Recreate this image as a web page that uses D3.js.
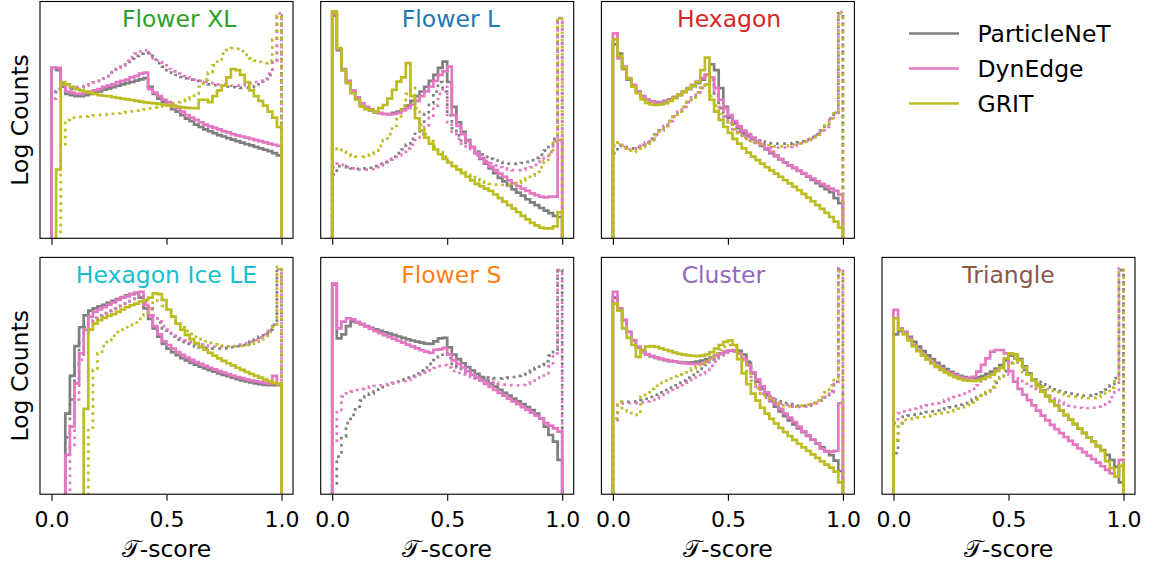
<!DOCTYPE html>
<html>
<head>
<meta charset="utf-8">
<script src="https://cdn.jsdelivr.net/npm/d3@7"></script>
<style>
  body { margin: 0; background: #fff; }
  svg { font-family: "DejaVu Sans", sans-serif; }
</style>
</head>
<body>
<div id="chart"></div>
<script>
let width = 1150;
let height = 564;

// models + legend
let models = ["ParticleNeT", "DynEdge", "GRIT"];
let modelColors = ["#7f7f7f", "#e377c2", "#bcbd22"];

// panel titles
let titles = ["Flower XL", "Flower L", "Hexagon", "Hexagon Ice LE", "Flower S", "Cluster", "Triangle"];
let titleColors = ["#2ca02c", "#1f77b4", "#d62728", "#17becf", "#ff7f0e", "#9467bd", "#8c564b"];

let tickValues = [0, 0.5, 1.0];

// 50 bins on [0,1], heights in log-count units (0 = bottom of axes, 100 = top)
// --- Flower XL
let xl_pn = [72,71,64,61,60.5,60,60,60.5,61,61.5, 62,62.8,63.3,63.8,64.5,65,65.5,66,66.6,67.1, 67.6,64,61,59,57.5,56,54.5,53.5,52,50.5, 49.5,48,47,46,45.2,44.4,43.6,43,42.3,41.7, 41,40.4,39.8,39.2,38.6,38,37.4,36.8,36,35];
let xl_pn_dot = [62,63,63,63.5,63,63.3,63.8,64.3,65,65.8, 66.5,67.5,68.5,70,71.5,73,74.5,76,77,78, 78.5,77,75.5,74,72.5,71,70,69,68.2,67.5, 67,66.5,66,65.5,65,64.7,64.4,64.2,64,63.8, 63.6,63.5,63.5,63.8,64.3,65,66.5,69,74.5,94];
let xl_de = [72,72,65,62,61.5,61,61,61.5,62,62.5, 63,64,64.5,65,66,66.5,67,68,68.5,69.5, 70,63,61.5,60,58.5,57.5,56,55,53.5,52, 51,50,49,48,47.3,46.6,46,45.3,44.7,44, 43.5,43,42.5,42,41.5,41,40.5,40,39.5,39];
let xl_de_dot = [59,62,63.5,64,63.5,63.8,64,64.5,65,65.8, 66.5,67.5,68.5,70.2,72,73.5,75,76.5,78,79, 79.5,78,76,74.5,73,71.5,70.5,69.5,68.5,68, 67.5,67,66.5,66,65.5,65.5,65,65,65,64.5, 64.5,64.5,65,65.5,66,66.5,67.5,69.5,75,95];
let xl_grit = [0,29,66,65,64,63,62.5,62,61.5,61, 60.5,60.2,60,59.6,59.3,59,58.7,58.4,58,57.7, 57.4,57.2,57,56.6,56.3,56,55.8,55.6,55.3,55.1, 55,55,58.5,58.5,57.5,60,62.5,64.5,68,71.5, 71,69,66,62.5,60,58,56,53.5,51,47];
let xl_grit_dot = [0,0,39,50,51,51,51.3,51.5,51.7,51.9, 52,52.2,52.4,52.6,52.8,53,53.3,53.6,53.9,54.2, 54.5,54.9,55.3,55.7,56.1,56.5,57,57.5,58,58.7, 59.5,61,64,67,70,73,75.5,78,79.5,80.3, 80,79,77.5,76,75,74.5,74,75,84,94];

// --- Flower L
let l_pn = [94,79.5,71,66,62,59,56.5,55,54,53.2, 52.8,52.5,52.5,53,53.5,54.5,56,58,60,62, 64,66.5,69,72,74.6,66,55.5,49,45,41.5, 38.5,36,33.5,31.5,29.5,27.5,25.5,24,22.3,20.7, 19.3,18,16.5,15.2,14,12.8,11.7,10.6,9.5,9];
let l_pn_dot = [27,30.5,30.5,30,29.5,29.3,29.3,29.5,29.8,30.5, 31.3,32.2,33.3,34.5,36,37.5,39.5,42,45,48.5, 52.5,57,62,66,62,52,46.5,43.5,41.3,39.5, 38,36.6,35.4,34.4,33.5,32.8,32.2,31.8,31.5,31.4, 31.5,31.8,32.3,33,34,35.3,37,39.5,42,92];
let l_de = [95,80,71.5,66.5,62.5,59.5,57,55.5,54.5,53.5, 53,52.5,52.3,52.5,53,54,55,56.5,58,60, 62,64,66.5,69,70.5,72.5,52,47.5,44,41, 38.5,36,34,32,30.3,28.8,27.3,26,24.5,23.3, 22,21,20,19,18.2,17.6,17.3,17.6,17.6,41.5];
let l_de_dot = [30,31.5,31,30,29.5,29,29,29,29.3,30, 30.8,31.6,32.6,33.7,35,36.5,38,39.5,41.5,44, 47,51,56,61,64,49,45,42,40,38, 36.5,35,33.8,32.7,31.7,30.8,30,29.4,29,28.8, 28.8,29,29.4,30,31,32.3,34,36.5,41,93];
let l_grit = [95.8,80.3,71,65.5,61.3,58.5,55.6,54.5,54.2,53.5, 55,56.3,59,62.7,66.2,68,74,60,50.7,45.5, 42.5,40,37.5,35.5,33.5,32,30.5,29,27.5,26, 24.5,23,22,21,20,18.5,17,15.5,14,12.5, 11,9.5,8,6.5,5.5,4.5,4.2,4.2,5,11];
let l_grit_dot = [37,38,36.5,35.2,34.8,34.5,34.5,35,35.5,37, 39,41.5,44,47.5,51.5,56,61,63.5,55,48, 44,41,38.7,36.5,34.5,32.5,31,29.5,28,26.8, 25.8,25,24.2,23.5,23,22.7,22.5,22.5,22.7,23, 23.5,24.3,25.3,26.5,28,30,32.5,35.5,41,93];

// --- Hexagon
let h_pn = [82,78,71.5,67,64.5,62,60,58.5,57.8,57.5, 57.5,58,58.7,59.6,60.6,61.8,63,64.3,65.6,67, 69,73.5,71,63.4,55.5,51,48.5,46.5,45,43.5, 42,40.5,39,37.5,36,34.7,33.3,32,30.8,29.7, 28.5,27.3,26,24.7,23.3,22,20.8,19.5,17,14.8];
let h_pn_dot = [36,39,38.5,38,38,38.5,39.5,40.5,42,43.8, 45.6,47.5,49.5,51.5,53.5,55.5,57.5,59.5,61.5,63.5, 65.5,67,60,55,51.5,49,47,45.3,44,43, 42,41.3,40.8,40.4,40.2,40,40,40,40,40.2, 40.5,41,41.8,42.8,44,45.5,47.5,50.5,53,95];
let h_de = [86.6,76,72.5,67.6,64.8,62,59.9,58.5,57.7,57.3, 57.3,57.7,58.5,59.6,60.6,62,63.4,64.8,66.2,67.6, 69,68,63.4,58.5,55,52,49.5,47.3,45.5,44, 42.5,41,39.5,38,36.5,35,33.5,32,30.8,29.7, 28.6,27.5,26.3,25.2,24,23,22,21,20,18.5];
let h_de_dot = [39,39.5,38.5,37.5,37.5,38,39,40.5,42,43.8, 45.6,47.5,49.5,51.5,53.5,55.5,57.5,59.5,61.5,63.5, 65,66.5,61,55.5,51.5,48.5,46,44,42.5,41.3, 40.3,39.6,39,38.6,38.4,38.3,38.3,38.4,38.6,39, 39.5,40.2,41,42,43.3,45,47,50,53,95.5];
let h_grit = [84,77,72,67.5,64,61.3,58.7,57.2,56.5,56.3, 56.5,57,58,59.2,60.5,61.8,63.2,64.5,66,71, 76.3,58.5,53.5,50,47,44.5,42,40,38,36.2, 34.5,33,31.5,30,28.7,27.3,26,24.6,23.2,21.8, 20.3,18.8,17.2,15.6,14,12.4,10.7,9,7,4.5];
let h_grit_dot = [40.5,39.5,38,37,36.5,37,38.5,40,41.5,43.5, 45.5,47.5,49.5,51.5,53.5,55.5,57.5,59.5,61.5,63.5, 65.5,60,56,52.5,50,48,46,44.5,43.2,42, 41,40.3,39.7,39.3,39,38.8,38.8,38.9,39.1,39.5, 40,40.7,41.5,42.5,43.8,45.5,47.5,50.5,53.5,95];

// --- Hexagon Ice LE
let ice_pn = [0,0,0,34,50,62.5,70.5,75.5,77.5,78.5, 79.3,80,80.8,81.6,82.4,83.2,84,84.5,85,83, 78.5,74,70,66.5,63.5,61.5,60,58.7,57.5,56.5, 55.5,54.7,53.9,53.1,52.4,51.7,51,50.4,49.8,49.2, 48.6,48.1,47.6,47.2,46.8,46.5,46.2,46,46,46];
let ice_pn_dot = [0,0,0,24,40,55,65,70.5,73,74.5, 75.5,76.5,77.5,78.5,79.5,80.5,81.5,82.5,83.5,84, 81.5,78.5,75.5,72.5,70,68,66.5,65.3,64.3,63.5, 62.9,62.4,62,61.8,61.6,61.5,61.5,61.6,61.8,62.1, 62.5,63,63.6,64.4,65.3,66.4,67.8,69.5,71.5,95];
let ice_de = [0,0,0,16.6,28.5,46.8,59.5,69.3,75,77, 78,79,80,81,82,83,83.5,84.5,85,85.5, 80,75.5,71,67.5,64.5,63,61.5,60,58.8,57.7, 56.7,55.8,55,54.2,53.4,52.7,52,51.3,50.7,50.1, 49.5,49,48.5,48.1,47.7,47.3,47,46.7,50,46.5];
let ice_de_dot = [0,0,0,0,20,40,56.7,68,72,73.5, 74.5,75.5,76.5,77.5,78.5,79.5,80.5,81.5,82.5,84, 81,78,75.5,73,71,69.5,68,66.8,65.8,65, 64.3,63.7,63.2,62.8,62.5,62.3,62.2,62.2,62.3,62.5, 62.8,63.2,63.7,64.4,65.2,66.2,67.5,69,71,95];
let ice_grit = [0,0,0,0,0,0,0,36,69.5,72, 73.5,74.5,75.3,76,77,78,79,79.8,80.5,81.3, 82,83,84.8,84.5,82,78,75,72,69.5,67.3, 65.5,63.8,62.3,61,59.7,58.5,57.4,56.3,55.3,54.4, 53.4,52.5,51.6,50.8,50,49.2,48.4,47.7,47,46.5];
let ice_grit_dot = [0,0,0,0,0,0,0,0,27,52.5, 59.5,62.5,65,67,68.5,69.5,70.5,71.5,72.5,74, 76,78.5,81,82.5,79.5,77.5,75,72.5,70.5,69, 67.7,66.5,65.5,64.6,63.9,63.3,62.9,62.6,62.4,62.3, 62.4,62.6,63,63.6,64.4,65.4,66.8,68.5,70.5,96];

// --- Flower S (no GRIT)
let s_pn = [88.5,65.8,67.5,71,73,72.5,71.8,71,70.3,69.6, 69,68.4,67.8,67.2,66.6,66,65.4,64.9,64.4,64, 63.6,63.5,64.5,65.8,66,62,59,57,55.3,53.7, 52.2,50.8,49.4,48,46.7,45.4,44.1,42.8,41.6,40.4, 39.2,38,36.8,35.5,34,32,28.5,25,22.2,14.5];
let s_pn_dot = [4.6,15.9,24.3,30,33.5,37,39.5,41.2,42.5,43.5, 44.4,45.2,46,46.8,47.6,48.4,49.2,50,51,52.2, 53.5,55,56.6,58.2,59.5,57.5,55,53.5,52.3,51.3, 50.6,50,49.5,49.2,49,48.9,48.9,49,49.2,49.5, 50,50.6,51.3,52.2,53.2,54.5,56.2,58.5,61,94.6];
let s_de = [89,70,72.9,74.3,73.8,72.8,71.8,70.8,69.8,68.9, 68,67.2,66.4,65.6,64.8,64,63.2,62.4,61.6,60.8, 60.2,59.7,61,61.2,61.8,59,56.5,55,53.5,52, 50.5,49.2,47.9,46.6,45.3,44,42.8,41.6,40.4,39.2, 38,36.8,35.6,34.4,33.2,32,30,29,27.8,26.4];
let s_de_dot = [21.5,35.6,41.2,42.6,43.3,44,44.5,45,45.4,45.7, 46,46.3,46.6,47,47.4,47.8,48.3,48.9,49.6,50.4, 51.3,52.3,53.3,54.1,54.5,53.5,52,51.2,50.5,49.9, 49.3,48.8,48.3,47.8,47.4,47,46.6,46.3,46.1,46, 46,46.2,46.6,47.2,48,49.2,51,54,59.5,94.6];

// --- Cluster
let c_pn = [83,78.5,73.5,68.5,65,62,60,59,58.2,57.6, 57,56.6,56.2,56,55.8,55.6,55.6,55.7,56,56.4, 57,57.7,58.5,59.3,60,60.6,60.8,60.5,59,55.5, 51,47.5,44.5,41.8,39.3,37,35,33,31.2,29.5, 27.8,26.2,24.6,23,21.4,19.8,18.2,16.5,14.2,9.8];
let c_pn_dot = [31.4,38.4,39,39,39,39.2,39.6,40.3,41.1,42, 43,44,45,46,47,48,49.2,50.4,51.7,53, 54.5,56,57.5,58.8,59.8,60.5,60.9,60.5,59,56, 51.5,47.5,44.5,42.5,41,40,39.2,38.5,38,37.6, 37.4,37.3,37.4,37.8,38.5,39.5,41,43.5,47.5,94.6];
let c_de = [85.5,78.5,73.6,68.6,65.1,62.3,60.2,59.2,58.4,57.8, 57.2,56.7,56.3,56,55.7,55.3,55.1,55,55,55, 56,57.5,58.5,59.5,60.3,60.8,60.6,59.5,57.5,54.5, 51.5,48.5,45.5,43,40.5,38,36,34,32.3,30.5, 28.5,26.5,24.8,23.1,21.5,19.2,18,18,18.3,38.4];
let c_de_dot = [34.2,38.4,38.4,38.4,38.3,38.4,38.7,39.2,39.8,40.5, 41.3,42.2,43.1,44,45,46,47.1,48.3,49.6,51, 52.6,54.3,56,57.7,59,59.8,60.2,59.5,57.5,54.5, 49.5,45.5,42.5,40.8,39.6,38.8,38.2,37.7,37.3,37, 36.9,37,37.3,37.8,38.5,39.5,41,43,46.5,95.4];
let c_grit = [80.5,77.5,70,66,63,58,61,62.3,62.5,62.2, 61.6,61,60.4,59.8,59.3,58.9,58.6,58.4,58.3,58.5, 59,60,61.5,63,64.3,65,63,57,51,46.5, 42.5,39.5,36.5,34,31.8,29.8,28,26.2,24.5,22.9, 21.3,19.8,18.3,16.8,15.3,13.9,12.5,11.2,9.5,5];
let c_grit_dot = [32,39,36.3,35,33.5,33.5,41.2,43,44.5,45.8, 47,48,48.9,49.8,50.6,51.4,52.2,53,54,55.2, 56.5,58,59.5,61,62.2,63,62.5,60,56.5,52, 48,44.8,42.5,40.8,39.6,38.7,38,37.5,37.1,37, 37,37.3,37.8,38.5,39.5,41,43,46,49,94];

// --- Triangle
let t_pn = [67.5,69,68.5,66.5,64.3,62.3,60.4,58.6,57,55.5, 54.1,52.8,51.7,50.7,50,49.4,49,49,49.3,49.9, 50.8,51.8,53,54.5,56.5,58.5,58.8,57,54,51, 48.3,46,43.7,41.5,39.4,37.4,35.4,33.4,31.5,29.6, 27.7,25.8,24,22.2,20.4,18.6,16.6,14.5,11.5,5];
let t_pn_dot = [17.3,30,32.8,33.2,33.6,34,34.3,34.7,35,35.4, 35.8,36.2,36.7,37.2,37.8,38.4,39.1,40,41,42.2, 43.6,45.2,47,49.2,52,55.5,57.4,55,52.5,50.8, 49.4,48.1,47,46,45.1,44.3,43.6,43,42.5,42.1, 41.8,41.6,41.6,41.8,42.2,43,44.2,46,49,94.6];
let t_de = [77.8,70,68.6,65.8,63,61,59,57.2,55.6,54.2, 53,51.9,51,50.2,49.5,49,49,49.6,51.8,54.6, 57.4,60.2,60.9,60.9,59.5,52,47.5,44.5,42,39.7, 37.5,35.3,33.2,31.2,29.3,27.5,25.8,24.1,22.5,20.9, 19.3,17.8,16.3,14.8,13.3,11.8,10.3,8.8,7.5,14.5];
let t_de_dot = [30,34.2,35,35.6,36.2,36.6,37,37.5,38,38.5, 39.1,39.7,40.3,41,41.7,42.5,43.4,44.5,46,47.6, 49.3,51,52.5,53.5,53.9,50.5,49,47.8,46.6,45.5, 44.4,43.3,42.3,41.3,40.4,39.5,38.7,38,37.4,36.9, 36.5,36.3,36.3,36.5,37,37.8,39,41,44,95.4];
let t_grit = [74.3,69.5,67.5,65,62.5,60.4,58.5,56.8,55.2,53.8, 52.5,51.3,50.3,49.4,48.7,48.2,47.9,47.8,48.1,48.7, 49.5,50.5,52,53.5,57.4,59.5,59,56.5,53.5,50.5, 48,45.5,43.3,41.2,39.2,37.3,35.4,33.5,31.6,29.7, 27.8,25.9,24,22.1,20.2,18.3,14,11,7.5,12];
let t_grit_dot = [22.9,30,31.4,31.7,32,32.3,32.6,33,33.4,33.8, 34.2,34.6,35,35.5,36.1,36.8,37.7,38.7,40,41.5, 43.2,45.2,47.5,50,52.8,55.3,57.4,54.5,51.5,49.6, 48,46.6,45.4,44.4,43.6,43,42.4,41.9,41.5,41.2, 41,40.8,40.6,40.7,41,41.8,43,45,48.2,94.6];

// panel -> [solid, dotted] per model (null = not shown)
let panelSeries = [
  [[xl_pn, xl_pn_dot], [xl_de, xl_de_dot], [xl_grit, xl_grit_dot]],
  [[l_pn, l_pn_dot], [l_de, l_de_dot], [l_grit, l_grit_dot]],
  [[h_pn, h_pn_dot], [h_de, h_de_dot], [h_grit, h_grit_dot]],
  [[ice_pn, ice_pn_dot], [ice_de, ice_de_dot], [ice_grit, ice_grit_dot]],
  [[s_pn, s_pn_dot], [s_de, s_de_dot], null],
  [[c_pn, c_pn_dot], [c_de, c_de_dot], [c_grit, c_grit_dot]],
  [[t_pn, t_pn_dot], [t_de, t_de_dot], [t_grit, t_grit_dot]]
];

// layout
let panelW = 253;
let panelH = 236.8;
let colX = [40, 320.7, 601.4, 882];
let rowY = [1.5, 257.4];
let cells = [[0,0],[0,1],[0,2],[1,0],[1,1],[1,2],[1,3]];
let titleFrac = [0.55, 0.515, 0.505, 0.5, 0.516, 0.482, 0.5];
let lw = 2.7;

let edges = d3.range(51).map(i => i / 50);
let FLOOR = -6;

let svg = d3.select("#chart").append("svg")
  .attr("width", width)
  .attr("height", height);

let x = d3.scaleLinear().domain([-0.05, 1.05]).range([0, panelW]);
let y = d3.scaleLinear().domain([0, 100]).range([panelH, 0]);

let line = d3.line().x(d => x(d[0])).y(d => y(d[1]));

function stepPoints(vals) {
  let pts = [[0, FLOOR]];
  vals.forEach((v, i) => {
    let h = v > 0 ? v : FLOOR;
    pts.push([edges[i], h], [edges[i + 1], h]);
  });
  pts.push([1, FLOOR]);
  return pts;
}

titles.forEach((title, p) => {
  let row = cells[p][0], col = cells[p][1];
  let g = svg.append("g").attr("transform", "translate(" + colX[col] + "," + rowY[row] + ")");

  g.append("clipPath").attr("id", "clip" + p)
    .append("rect").attr("width", panelW).attr("height", panelH);

  let plot = g.append("g").attr("clip-path", "url(#clip" + p + ")");

  panelSeries[p].forEach((pair, m) => {
    if (!pair) return;
    plot.append("path")
      .attr("d", line(stepPoints(pair[0])))
      .attr("fill", "none")
      .attr("stroke", modelColors[m])
      .attr("stroke-width", lw)
      .attr("stroke-linejoin", "miter");
    plot.append("path")
      .attr("d", line(stepPoints(pair[1])))
      .attr("fill", "none")
      .attr("stroke", modelColors[m])
      .attr("stroke-width", lw)
      .attr("stroke-dasharray", "2.7,4.4");
  });

  // frame
  g.append("rect")
    .attr("width", panelW).attr("height", panelH)
    .attr("fill", "none").attr("stroke", "#000").attr("stroke-width", 1.1);

  // x axis
  let xAxis = d3.axisBottom(x).tickValues(tickValues).tickSize(6.5).tickSizeOuter(0).tickPadding(11);
  if (row == 0 && col < 3) xAxis.tickFormat("");
  else xAxis.tickFormat(d3.format(".1f"));
  let ax = g.append("g").attr("transform", "translate(0," + panelH + ")").call(xAxis);
  ax.select(".domain").remove();
  ax.selectAll(".tick line").attr("stroke", "#000").attr("stroke-width", 1.1);
  ax.selectAll(".tick text").attr("fill", "#000").style("font-size", "22px").style("font-family", "DejaVu Sans");

  if (row == 1) {
    let lab = g.append("text")
      .attr("x", x(0.5)).attr("y", panelH + 62.5)
      .attr("text-anchor", "middle")
      .style("font-size", "23.5px");
    lab.append("tspan").text("𝒯");
    lab.append("tspan").text("-score");
  }

  // title
  g.append("text")
    .attr("x", panelW * titleFrac[p]).attr("y", 25.5)
    .attr("text-anchor", "middle")
    .attr("fill", titleColors[p])
    .style("font-size", "23.5px")
    .text(title);
});

// y labels
rowY.forEach(ry => {
  svg.append("text")
    .attr("transform", "translate(28," + (ry + panelH / 2) + ") rotate(-90)")
    .attr("text-anchor", "middle")
    .style("font-size", "23.5px")
    .text("Log Counts");
});

// legend
let legend = svg.append("g").attr("transform", "translate(909,33.5)");
models.forEach((name, i) => {
  legend.append("line")
    .attr("x1", 0).attr("x2", 50)
    .attr("y1", i * 35).attr("y2", i * 35)
    .attr("stroke", modelColors[i]).attr("stroke-width", lw);
  legend.append("text")
    .attr("x", 68.5).attr("y", i * 35 + 8.7)
    .style("font-size", "23.5px")
    .text(name);
});
</script>
</body>
</html>
